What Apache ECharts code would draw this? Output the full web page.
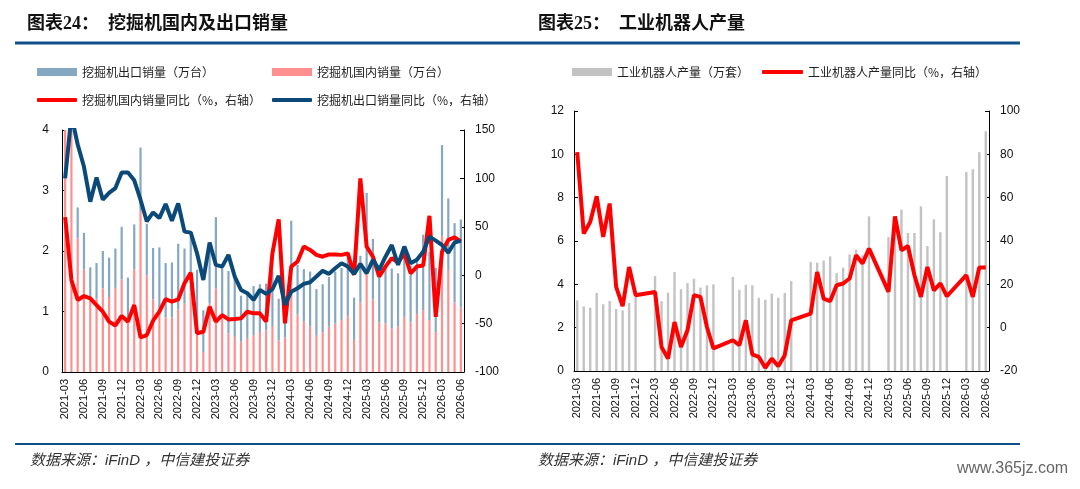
<!DOCTYPE html>
<html><head><meta charset="utf-8">
<script src="https://cdn.jsdelivr.net/npm/echarts@6/dist/echarts.min.js"></script>
<style>html,body{margin:0;padding:0;background:#fff}#c{width:1080px;height:489px}</style>
</head><body><div id="c"></div>
<script>
const months = ['2021-03','2021-04','2021-05','2021-06','2021-07','2021-08','2021-09','2021-10','2021-11','2021-12',
'2022-01','2022-02','2022-03','2022-04','2022-05','2022-06','2022-07','2022-08','2022-09','2022-10','2022-11','2022-12',
'2023-01','2023-02','2023-03','2023-04','2023-05','2023-06','2023-07','2023-08','2023-09','2023-10','2023-11','2023-12',
'2024-01','2024-02','2024-03','2024-04','2024-05','2024-06','2024-07','2024-08','2024-09','2024-10','2024-11','2024-12',
'2025-01','2025-02','2025-03','2025-04','2025-05','2025-06','2025-07','2025-08','2025-09','2025-10','2025-11','2025-12',
'2026-01','2026-02','2026-03','2026-04','2026-05','2026-06'];

// 挖掘机国内销量（万台）
const excavatorDomestic = [7.3,4.0,2.21,1.69,1.24,1.21,1.38,1.24,1.39,1.53, 0.85,1.70,2.66,1.60,1.20,1.05,0.90,0.90,1.04,1.13,
 1.32,0.62,0.33,1.13,1.38,0.88,0.64,0.58,0.50,0.56, 0.61,0.66,0.69,0.76,0.52,0.57,1.30,0.95,0.83,0.75,
 0.61,0.65,0.75,0.80,0.86,0.92,0.53,1.15,1.70,1.20, 0.82,0.80,0.72,0.75,0.91,0.82,0.96,1.02,0.86,0.66, 2.25,1.69,1.15,1.07];
// 挖掘机出口销量（万台）
const excavatorExport = [0.6,0.7,0.51,0.61,0.49,0.59,0.62,0.65,0.65,0.87, 0.71,0.74,1.05,0.85,0.85,1.01,0.90,0.91,1.08,0.91,
 0.92,1.07,0.69,1.01,1.18,0.89,1.03,0.96,0.76,0.74, 0.81,0.79,0.77,0.90,0.69,0.68,1.20,0.82,0.87,0.91,
 0.76,0.80,0.82,0.86,0.86,0.96,0.70,0.77,1.26,1.00, 0.93,0.90,0.99,0.88,0.99,0.94,0.92,1.25,1.12,1.06, 1.50,1.18,1.31,1.45];
// 挖掘机国内销量同比（%）
const excavatorDomesticYoY = [60,-5,-25.6,-21.5,-24,-30.8,-37.7,-48,-52,-42, -48,-30.8,-64.2,-61.8,-47,-37.7,-24.6,-27.4,-25,-8.4,
 2.6,-60,-58.4,-32.6,-48,-41.3,-45.7,-45.3,-44.6,-37.7, -39.4,-39.4,-48,22.6,57.8,-49.7,8.9,14.1,29.6,26.1,
 21,19.1,21.5,21.5,21,22.6,0.3,100,29.6,19.1, -1.4,8.9,17.6,13,22.6,2,8.9,10,61.3,-43, 24.3,36.4,39.1,34.6];
// 挖掘机出口销量同比（%）
const excavatorExportYoY = [100,165,135,112,76,101,78,85,90,106, 106,98,78,55.5,64.8,59,73.5,56.3,74.2,45,
 44,22.6,-5,33.8,10.6,8.9,21,-1.4,-15.2,-18.6, -25.5,-15.2,-19.3,-14.5,-0.7,-30.8,-17,-13.5,-9,-7.3,
 -1.4,4.5,1.4,7.2,12.4,8.9,1.4,11.7,2,15.9, 5.5,19.1,31.2,10.6,29.6,12.4,15.9,24.3,39.8,35.7, 31.2,23.3,33.8,35.7];
// 工业机器人产量（万套）
const robotOutput = [3.26,2.98,2.92,3.6,3.08,3.23,2.86,2.8,3.14,3.55, null,null,4.38,3.22,3.62,4.57,3.77,4.06,4.26,3.85,
 3.95,4.0,null,null,4.34,3.75,3.98,3.95,3.38,3.29, 3.57,3.38,3.6,4.15,null,null,5.03,5.0,5.1,5.29,
 4.52,4.77,5.38,5.6,5.34,7.14,null,null,6.18,6.88, 7.45,6.37,6.37,7.6,5.77,7.0,6.4,9.0,null,null, 9.18,9.31,10.1,11.06];
// 工业机器人产量同比（%）
const robotOutputYoY = [81,43.4,48.8,60.6,41.9,57.3,18.8,9.9,28,15, null,null,16.5,-8.9,-14.3,2.6,-8.9,-1.2,15,14.2,
 0.3,-9.6,null,null,-5.8,-8.1,3.4,-12.3,-13.5,-18.5, -14.3,-17.8,-12.7,3.4,null,null,6.5,25.7,13.4,12.2,
 19.6,20.4,22.7,33.4,29.6,36.5,null,null,16.5,51.4, 35.7,37.7,24.2,14.2,28,17.2,20.4,14.5,null,null, 24.2,14.2,27.8,27.8];

const CJK = '"Noto Sans CJK SC", sans-serif';
const NUM = '"Liberation Sans", Arial, sans-serif';
const chart = echarts.init(document.getElementById('c'), null, {renderer:'canvas'});

function xAx(gi){
  return {type:'category', gridIndex:gi, data:months, boundaryGap:true,
    axisLine:{lineStyle:{color:'#000',width:1}},
    axisTick:{interval:2, length:4, lineStyle:{color:'#000'}},
    axisLabel:{interval:2, rotate:90, fontSize:11, color:'#111', fontFamily:NUM, margin:7}};
}
function yAx(gi,min,max,interval,position,margin){
  return {type:'value', gridIndex:gi, min:min, max:max, interval:interval, position:position,
    axisLine:{show:true, lineStyle:{color:'#000'}},
    axisTick:{show:true, inside:true, length:4, lineStyle:{color:'#000'}},
    splitLine:{show:false},
    axisLabel:{fontSize:12, color:'#111', fontFamily:NUM, margin:margin}};
}
function lg(name,left,top,w,h,icon){
  return {show:true, left:left, top:top, itemWidth:w, itemHeight:h, icon:icon, data:[name], padding:0, itemGap:0,
    selectedMode:false, textStyle:{fontSize:12, color:'#222', fontFamily:CJK}};
}
const N1='挖掘机出口销量（万台）', N2='挖掘机国内销量（万台）', N3='挖掘机国内销量同比（%，右轴）', N4='挖掘机出口销量同比（%，右轴）';
const N5='工业机器人产量（万套）', N6='工业机器人产量同比（%，右轴）';

chart.setOption({
  animation:false,
  backgroundColor:'#fff',
  grid:[{left:62, top:130, width:402, height:242},{left:574, top:111, width:415, height:260}],
  xAxis:[xAx(0), xAx(1)],
  yAxis:[yAx(0,0,4,1,'left',13), yAx(0,-100,150,50,'right',11), yAx(1,0,12,2,'left',10), yAx(1,-20,100,20,'right',11)],
  legend:[
    lg(N1,37,66,40,8,'rect'), lg(N2,272,66,40,8,'rect'),
    lg(N3,37,94,40,4,'roundRect'), lg(N4,272,94,40,4,'roundRect'),
    lg(N5,572,66,40,8,'rect'), lg(N6,762,66,41,4,'roundRect')
  ],
  series:[
    {name:N2, type:'bar', stack:'exc', xAxisIndex:0, yAxisIndex:0, data:excavatorDomestic, barWidth:2.2, itemStyle:{color:'#ff8f8f'}},
    {name:N1, type:'bar', stack:'exc', xAxisIndex:0, yAxisIndex:0, data:excavatorExport, barWidth:2.2, itemStyle:{color:'#86a7c2'}},
    {name:N3, type:'line', xAxisIndex:0, yAxisIndex:1, data:excavatorDomesticYoY, symbol:'none', lineStyle:{color:'#ff0000', width:4}, itemStyle:{color:'#ff0000'}},
    {name:N4, type:'line', xAxisIndex:0, yAxisIndex:1, data:excavatorExportYoY, symbol:'none', lineStyle:{color:'#0b4a78', width:4}, itemStyle:{color:'#0b4a78'}},
    {name:N5, type:'bar', xAxisIndex:1, yAxisIndex:2, data:robotOutput, barWidth:2.4, itemStyle:{color:'#c3c3c3'}},
    {name:N6, type:'line', xAxisIndex:1, yAxisIndex:3, data:robotOutputYoY, connectNulls:true, symbol:'none', lineStyle:{color:'#ff0000', width:4}, itemStyle:{color:'#ff0000'}}
  ],
  graphic:[
    {type:'text', left:27, top:15, style:{text:'图表24：  挖掘机国内及出口销量', font:'bold 18px "Liberation Serif", "Noto Sans CJK SC", sans-serif', fill:'#111'}},
    {type:'text', left:538, top:15, style:{text:'图表25：  工业机器人产量', font:'bold 18px "Liberation Serif", "Noto Sans CJK SC", sans-serif', fill:'#111'}},
    {type:'line', shape:{x1:15, y1:43, x2:1020, y2:43}, style:{stroke:'#10508a', lineWidth:3}},
    {type:'line', shape:{x1:15, y1:444, x2:1020, y2:444}, style:{stroke:'#10508a', lineWidth:2}},
    {type:'text', left:30, top:453, style:{text:'数据来源：iFinD ，中信建投证券', font:'italic 15px "Liberation Sans", "Noto Sans CJK SC", sans-serif', fill:'#333'}},
    {type:'text', left:538, top:453, style:{text:'数据来源：iFinD ，中信建投证券', font:'italic 15px "Liberation Sans", "Noto Sans CJK SC", sans-serif', fill:'#333'}},
    {type:'text', left:957, top:461, style:{text:'www.365jz.com', font:'16px "Liberation Sans", sans-serif', fill:'#666'}}
  ]
});
</script></body></html>
